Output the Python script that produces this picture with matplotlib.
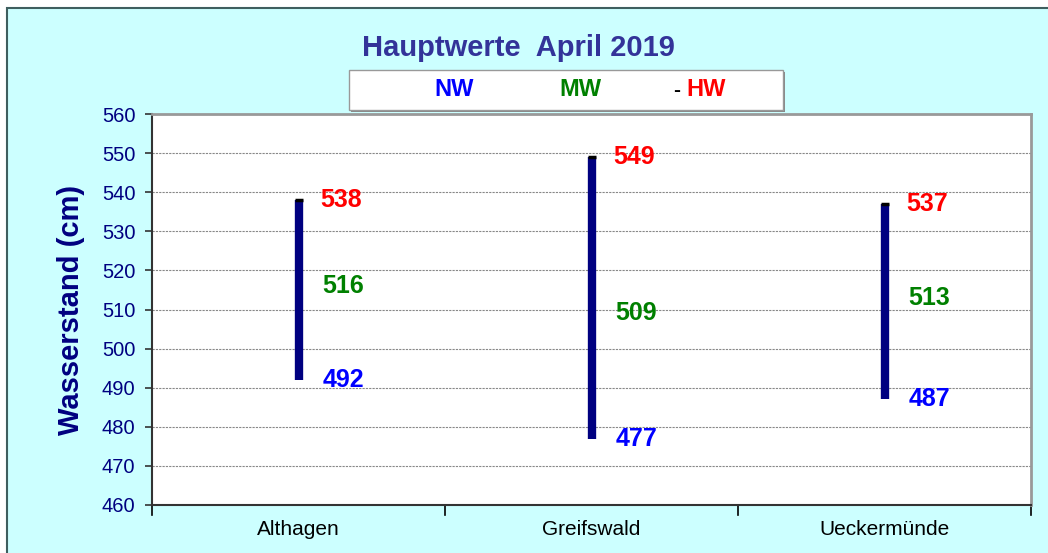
import matplotlib.pyplot as plt
from matplotlib.patches import Rectangle

plt.rcParams['font.family'] = ['Liberation Sans', 'DejaVu Sans']

# data
stations = ['Althagen', 'Greifswald', 'Ueckermünde']
nw = [492, 477, 487]
mw = [516, 509, 513]
hw = [538, 549, 537]
yticks = list(range(460, 561, 10))

W, H = 1048, 553
fig = plt.figure(figsize=(W / 100, H / 100), dpi=100)
fig.patch.set_facecolor('white')

# outer chart frame (light cyan)
fig.patches.append(Rectangle((7 / W, -0.1), 1.2, 1.1 - 8 / H, transform=fig.transFigure,
                             facecolor='#CCFFFF', edgecolor='#3F5F5F', linewidth=1.5, zorder=-10))

ax = fig.add_axes([152 / W, 1 - 505 / H, (1031 - 152) / W, (505 - 114) / H])
ax.set_facecolor('white')

x = list(range(len(stations)))

# NW-HW range bars
ax.vlines(x, nw, hw, color='#000080', linewidth=6, zorder=3)
# small black HW marker
ax.scatter(x, hw, marker='_', s=36, color='black', linewidths=2.5, zorder=4)

for xi, n, m, h in zip(x, nw, mw, hw):
    ax.text(xi + 0.075, h, str(h), color='#FF0000', fontsize=18, fontweight='bold', va='center', ha='left')
    ax.text(xi + 0.082, m, str(m), color='#008000', fontsize=18, fontweight='bold', va='center', ha='left')
    ax.text(xi + 0.082, n, str(n), color='#0000FF', fontsize=18, fontweight='bold', va='center', ha='left')

ax.set_xlim(-0.5, 2.5)
ax.set_ylim(460, 560)
ax.set_yticks(yticks)
ax.set_yticklabels([str(t) for t in yticks], color='#000080', fontsize=14.5)
ax.set_xticks(x)
ax.set_xticklabels(stations, fontsize=15)
ax.tick_params(axis='x', length=0, pad=11)
ax.tick_params(axis='y', direction='out', length=5, width=1.2, color='#333333', pad=7)
# category separator ticks
for b in [-0.5, 0.5, 1.5, 2.5]:
    ax.plot([b, b], [460, 457.5], color='black', linewidth=1.2, clip_on=False)

ax.grid(axis='y', color='#888888', linestyle=(0, (2, 1)), linewidth=0.8)
ax.set_axisbelow(True)
for s in ['left', 'bottom']:
    ax.spines[s].set_color('#333333')
    ax.spines[s].set_linewidth(1.5)
for s in ['right', 'top']:
    ax.spines[s].set_color('#999999')
    ax.spines[s].set_linewidth(2)

ax.set_ylabel('Wasserstand (cm)', color='#000080', fontsize=21, fontweight='bold', labelpad=12)

# title
fig.text(518 / W, 1 - 48 / H, 'Hauptwerte  April 2019', color='#333399', fontsize=21,
         fontweight='bold', ha='center', va='center')

# legend box
fig.patches.append(Rectangle((351 / W, 1 - 112 / H), (434 / W), 40 / H, transform=fig.transFigure,
                             facecolor='#888888', edgecolor='none', zorder=1))
fig.patches.append(Rectangle((349 / W, 1 - 110 / H), (434 / W), 40 / H, transform=fig.transFigure,
                             facecolor='white', edgecolor='#999999', linewidth=1, zorder=2))
fig.text(454 / W, 1 - 90 / H, 'NW', color='#0000FF', fontsize=17, fontweight='bold', ha='center', va='center')
fig.text(580 / W, 1 - 90 / H, 'MW', color='#008000', fontsize=17, fontweight='bold', ha='center', va='center')
fig.text(677 / W, 1 - 91 / H, '-', color='black', fontsize=15, fontweight='bold', ha='center', va='center')
fig.text(706 / W, 1 - 90 / H, 'HW', color='#FF0000', fontsize=17, fontweight='bold', ha='center', va='center')

fig.savefig('out.png', dpi=100)
